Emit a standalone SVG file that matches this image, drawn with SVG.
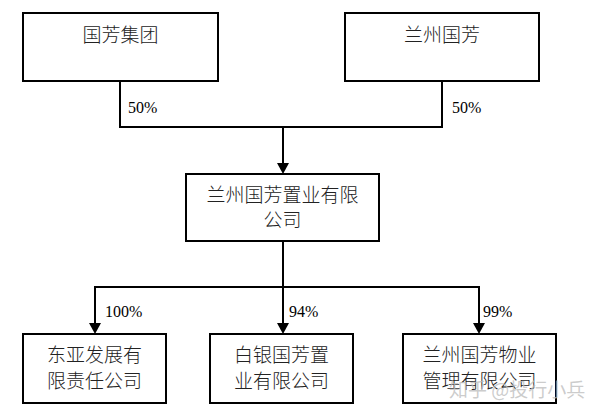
<svg xmlns="http://www.w3.org/2000/svg" width="591" height="417" viewBox="0 0 591 417">
<style>
.box{fill:#fff;stroke:#000;stroke-width:2}
.t{font-family:"Noto Sans CJK SC","Noto Sans CJK JP",sans-serif;font-size:19px;fill:#222;text-anchor:middle;font-weight:300}
.p{font-family:"Liberation Serif",serif;font-size:16px;fill:#000}
.c{fill:none;stroke:#000;stroke-width:2}
.wm{font-family:"Noto Sans CJK SC",sans-serif;font-size:19px;fill:#bbb;fill-opacity:0.75}
</style>
<rect width="591" height="417" fill="#fff"/>
<g id="connectors">
<path class="c" d="M120,81 V127 H442 V81"/>
<path class="c" d="M283,127 V164"/>
<path d="M277,163 L289,163 L283,174 z" fill="#000"/>
<path class="c" d="M283,241 V287"/>
<path class="c" d="M95,324 V287 H479 V324"/>
<path class="c" d="M283,287 V324"/>
<path d="M89,323 L101,323 L95,334 z" fill="#000"/>
<path d="M277,323 L289,323 L283,334 z" fill="#000"/>
<path d="M473,323 L485,323 L479,334 z" fill="#000"/>
<text class="p" x="128" y="113">50%</text>
<text class="p" x="452" y="113">50%</text>
<text class="p" x="105" y="317">100%</text>
<text class="p" x="289" y="317">94%</text>
<text class="p" x="483" y="317">99%</text>
</g>
<g id="n1"><rect class="box" x="23" y="13" width="195" height="68"/><text class="t" x="120.5" y="42">国芳集团</text></g>
<g id="n2"><rect class="box" x="345" y="13" width="194" height="68"/><text class="t" x="442" y="42">兰州国芳</text></g>
<g id="n3"><rect class="box" x="186" y="174" width="193" height="67"/><text class="t" x="282.5" y="202">兰州国芳置业有限</text><text class="t" x="282.5" y="227">公司</text></g>
<g id="n4"><rect class="box" x="23" y="334" width="143" height="69"/><text class="t" x="94.5" y="362">东亚发展有</text><text class="t" x="94.5" y="388">限责任公司</text></g>
<g id="n5"><rect class="box" x="210" y="334" width="143" height="69"/><text class="t" x="281.5" y="362">白银国芳置</text><text class="t" x="281.5" y="388">业有限公司</text></g>
<g id="n6"><rect class="box" x="403" y="334" width="153" height="69"/><text class="t" x="479.5" y="362">兰州国芳物业</text><text class="t" x="479.5" y="388">管理有限公司</text></g>
<text class="wm" x="449" y="397">知乎 @投行小兵</text>
</svg>
